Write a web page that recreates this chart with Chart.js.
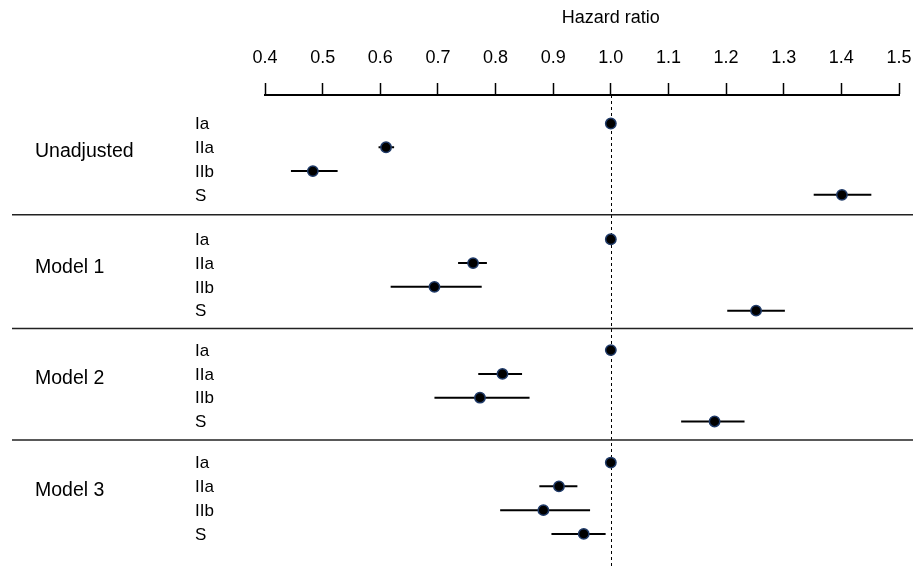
<!DOCTYPE html>
<html>
<head>
<meta charset="utf-8">
<script src="https://cdn.jsdelivr.net/npm/chart.js@4/dist/chart.umd.min.js"></script>
<style>
  html, body { margin: 0; padding: 0; background: #fff; }
  #wrap { width: 915px; height: 567px; }
</style>
</head>
<body>
<div id="wrap"><canvas id="c" width="915" height="567"></canvas></div>
<script>
// ---- data ----
const groups = ['Unadjusted', 'Model 1', 'Model 2', 'Model 3'];
const rowLabels = ['Ia', 'IIa', 'IIb', 'S'];
const hazardRatio = [
  [1.0, 0.610, 0.483, 1.401],
  [1.0, 0.761, 0.694, 1.252],
  [1.0, 0.812, 0.773, 1.180],
  [1.0, 0.910, 0.883, 0.953]
];
const ciLower = [
  [null, 0.597, 0.445, 1.352],
  [null, 0.735, 0.618, 1.202],
  [null, 0.770, 0.694, 1.122],
  [null, 0.876, 0.808, 0.897]
];
const ciUpper = [
  [null, 0.624, 0.526, 1.452],
  [null, 0.785, 0.776, 1.302],
  [null, 0.846, 0.859, 1.232],
  [null, 0.942, 0.964, 0.991]
];
const xTicks = [0.4, 0.5, 0.6, 0.7, 0.8, 0.9, 1.0, 1.1, 1.2, 1.3, 1.4, 1.5];
const referenceValue = 1.0;
const axisTitle = 'Hazard ratio';

// ---- layout (row positions on the hidden y scale) ----
const GROUP_BASE = [0, 4.87, 9.53, 14.26];
function rowPos(g, r) { return GROUP_BASE[g] + r; }

const FONT = "'Liberation Sans', Arial, sans-serif";

const datasets = [];
// confidence interval lines
groups.forEach((g, gi) => {
  rowLabels.forEach((r, ri) => {
    if (ciLower[gi][ri] == null) return;
    datasets.push({
      type: 'line',
      data: [{x: ciLower[gi][ri], y: rowPos(gi, ri)}, {x: ciUpper[gi][ri], y: rowPos(gi, ri)}],
      borderColor: '#000',
      borderWidth: 2,
      pointRadius: 0,
      pointHoverRadius: 0,
      fill: false,
      order: 2
    });
  });
});
// point estimates
const pts = [];
groups.forEach((g, gi) => rowLabels.forEach((r, ri) => pts.push({x: hazardRatio[gi][ri], y: rowPos(gi, ri)})));
datasets.push({
  type: 'scatter',
  data: pts,
  backgroundColor: '#000',
  borderColor: '#1f3a68',
  borderWidth: 1.5,
  pointRadius: 5.2,
  order: 1
});

const decorPlugin = {
  id: 'decor',
  beforeDatasetsDraw(chart) {
    const ctx = chart.ctx, xs = chart.scales.x, ys = chart.scales.y, area = chart.chartArea;
    ctx.save();
    // reference line
    const rx = Math.round(xs.getPixelForValue(referenceValue)) + 0.5;
    ctx.strokeStyle = '#000';
    ctx.lineWidth = 1;
    ctx.setLineDash([3, 3]);
    ctx.beginPath();
    ctx.moveTo(rx, area.top);
    ctx.lineTo(rx, chart.height);
    ctx.stroke();
    ctx.setLineDash([]);
    // separators between groups
    ctx.strokeStyle = '#222';
    ctx.lineWidth = 1.5;
    for (let gi = 0; gi < groups.length - 1; gi++) {
      const a = rowPos(gi, rowLabels.length - 1), b = rowPos(gi + 1, 0);
      const py = ys.getPixelForValue(a + 0.45 * (b - a));
      ctx.beginPath();
      ctx.moveTo(12, py);
      ctx.lineTo(913, py);
      ctx.stroke();
    }
    ctx.restore();
  },
  afterDraw(chart) {
    const ctx = chart.ctx, xs = chart.scales.x, ys = chart.scales.y;
    ctx.save();
    ctx.fillStyle = '#000';
    ctx.textBaseline = 'middle';
    // axis title
    ctx.font = '18px ' + FONT;
    ctx.textAlign = 'center';
    ctx.fillText(axisTitle, xs.getPixelForValue(referenceValue), 18);
    // row labels
    ctx.textAlign = 'left';
    ctx.font = '17px ' + FONT;
    groups.forEach((g, gi) => rowLabels.forEach((r, ri) => {
      ctx.fillText(r, 195, ys.getPixelForValue(rowPos(gi, ri)) + 1);
    }));
    // group labels
    ctx.font = '19.5px ' + FONT;
    groups.forEach((g, gi) => {
      ctx.fillText(g, 35, ys.getPixelForValue(rowPos(gi, 1.18)));
    });
    ctx.restore();
  }
};

new Chart(document.getElementById('c'), {
  type: 'scatter',
  data: { datasets },
  options: {
    responsive: false,
    animation: false,
    devicePixelRatio: 1,
    layout: { padding: { left: 265, right: 16, top: 0, bottom: 0 } },
    plugins: { legend: { display: false }, tooltip: { enabled: false } },
    scales: {
      x: {
        type: 'linear',
        position: 'top',
        min: 0.4,
        max: 1.5,
        afterBuildTicks(scale) { scale.ticks = xTicks.map(v => ({ value: v })); },
        afterFit(scale) { scale.height = 95; scale.paddingLeft = 0; scale.paddingRight = 0; },
        ticks: {
          color: '#000',
          font: { family: FONT, size: 18 },
          padding: 14,
          maxRotation: 0,
          autoSkip: false,
          callback: v => Number(v).toFixed(1)
        },
        grid: {
          drawOnChartArea: false,
          drawTicks: true,
          tickLength: 12,
          tickWidth: 1.5,
          tickColor: '#000'
        },
        border: { display: true, color: '#000', width: 2 }
      },
      y: {
        type: 'linear',
        display: false,
        reverse: true,
        min: -1.2,
        max: 18.37
      }
    }
  },
  plugins: [decorPlugin]
});
</script>
</body>
</html>
